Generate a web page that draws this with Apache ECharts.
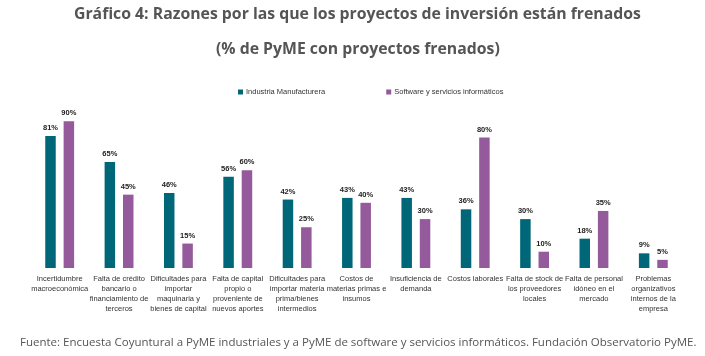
<!DOCTYPE html>
<html><head><meta charset="utf-8">
<script src="https://cdn.jsdelivr.net/npm/echarts@6/dist/echarts.min.js"></script>
<style>html,body{margin:0;padding:0;background:#fff}#c{width:705px;height:356px}</style>
</head><body><div id="c"></div>
<script>
const categories = [
  "Incertidumbre\nmacroeconómica",
  "Falta de crédito\nbancario o\nfinanciamiento de\nterceros",
  "Dificultades para\nimportar\nmaquinaria y\nbienes de capital",
  "Falta de capital\npropio o\nproveniente de\nnuevos aportes",
  "Dificultades para\nimportar materia\nprima/bienes\nintermedios",
  "Costos de\nmaterias primas e\ninsumos",
  "Insuficiencia de\ndemanda",
  "Costos laborales",
  "Falta de stock de\nlos proveedores\nlocales",
  "Falta de personal\nidóneo en el\nmercado",
  "Problemas\norganizativos\ninternos de la\nempresa"
];
const industria = [81, 65, 46, 56, 42, 43, 43, 36, 30, 18, 9];
const software = [90, 45, 15, 60, 25, 40, 30, 80, 10, 35, 5];
const seriesNames = ["Industria Manufacturera", "Software y servicios informáticos"];
const titleText = "Gráfico 4: Razones por las que los proyectos de inversión están frenados";
const subtitleText = "(% de PyME con proyectos frenados)";
const sourceText = "Fuente: Encuesta Coyuntural a PyME industriales y a PyME de software y servicios informáticos. Fundación Observatorio PyME.";

const chart = echarts.init(document.getElementById('c'), null, {renderer: 'canvas'});
const labelStyle = {show: true, position: 'top', formatter: '{c}%', fontSize: 7.5, fontWeight: 'bold', color: '#222', fontFamily: 'Liberation Sans', distance: 4};
chart.setOption({
  animation: false,
  title: [
    {text: titleText, left: 69, top: 1, textStyle: {fontFamily: 'Open Sans', fontWeight: 'bold', fontSize: 15.8, color: '#555'}},
    {text: subtitleText, left: 211, top: 36, textStyle: {fontFamily: 'Open Sans', fontWeight: 'bold', fontSize: 15.8, color: '#555'}},
    {text: sourceText, left: 15, top: 332, textStyle: {fontFamily: 'Open Sans', fontWeight: 'normal', fontSize: 11.5, color: '#555'}}
  ],
  legend: {
    top: 83, left: 233, itemWidth: 5, itemHeight: 5, itemGap: 61, icon: 'rect',
    textStyle: {fontFamily: 'Liberation Sans', fontSize: 7.5, color: '#333', padding: [0,0,0,-2]},
    data: seriesNames
  },
  grid: {left: 30, right: 22, top: 105, bottom: 88, containLabel: false},
  xAxis: {
    type: 'category', data: categories,
    axisLine: {show: false}, axisTick: {show: false},
    axisLabel: {interval: 0, fontFamily: 'Liberation Sans', fontSize: 7.5, color: '#333', lineHeight: 10, margin: 6}
  },
  yAxis: {type: 'value', min: 0, max: 100, show: false, splitLine: {show: false}},
  series: [
    {name: seriesNames[0], type: 'bar', data: industria, barWidth: 10.5, barGap: '75%', itemStyle: {color: '#006778'}, label: labelStyle},
    {name: seriesNames[1], type: 'bar', data: software, barWidth: 10.5, barGap: '75%', itemStyle: {color: '#955A9B'}, label: labelStyle}
  ]
});
</script></body></html>
